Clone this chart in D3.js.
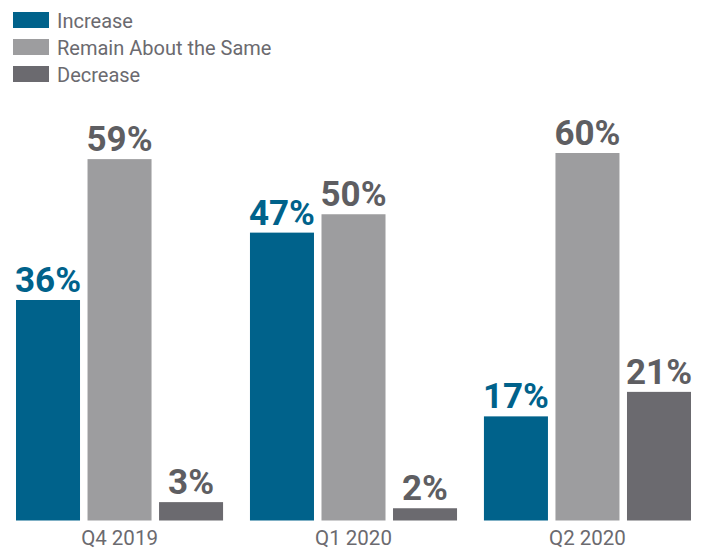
<!DOCTYPE html>
<html>
<head>
<meta charset="utf-8">
<script src="https://cdn.jsdelivr.net/npm/d3@7"></script>
<style>
  html, body { margin: 0; padding: 0; background: #fff; }
  svg { display: block; }
  text { font-family: Roboto, "Noto Sans", sans-serif; }
</style>
</head>
<body>
<svg id="chart" width="710" height="551"></svg>
<script>
// Quarters shown along the bottom
const quarters = ["Q4 2019", "Q1 2020", "Q2 2020"];
// Response series
const seriesNames = ["Increase", "Remain About the Same", "Decrease"];
const increase = [36, 47, 17];
const remain   = [59, 50, 60];
const decrease = [3, 2, 21];

const seriesColors = ["#00628b", "#9d9d9f", "#6b6a6f"];
const labelColors  = ["#00628b", "#5e5e62", "#5e5e62"];

const seriesValues = [increase, remain, decrease];
const rows = quarters.map((q, i) => ({
  quarter: q,
  values: seriesNames.map((s, j) => ({ series: s, idx: j, value: seriesValues[j][i] }))
}));

const svg = d3.select("#chart");
const baseline = 520.5;

const x0 = d3.scaleBand()
  .domain(quarters)
  .range([16, 691])
  .paddingInner(0.115)
  .paddingOuter(0);

const x1 = d3.scaleBand()
  .domain(seriesNames)
  .range([0, x0.bandwidth()])
  .paddingInner(0.105)
  .paddingOuter(0);

const y = d3.scaleLinear()
  .domain([0, 60])
  .range([baseline, baseline - 367.5]);

// Grouped bars
const groups = svg.append("g")
  .selectAll("g")
  .data(rows)
  .join("g")
  .attr("transform", d => `translate(${x0(d.quarter)},0)`);

groups.selectAll("rect")
  .data(d => d.values)
  .join("rect")
  .attr("x", d => x1(d.series))
  .attr("width", x1.bandwidth())
  .attr("y", d => y(d.value))
  .attr("height", d => y(0) - y(d.value))
  .attr("fill", d => seriesColors[d.idx]);

// Value labels above each bar
groups.selectAll("text.value")
  .data(d => d.values)
  .join("text")
  .attr("class", "value")
  .attr("x", d => x1(d.series) + x1.bandwidth() / 2)
  .attr("y", d => y(d.value) - 8)
  .attr("text-anchor", "middle")
  .attr("font-size", 35)
  .attr("font-weight", 700)
  .attr("fill", d => labelColors[d.idx])
  .text(d => d.value + "%");

// Category axis labels
svg.append("g")
  .attr("transform", `translate(0,${baseline})`)
  .call(d3.axisBottom(x0).tickSize(0).tickPadding(0))
  .call(g => g.select(".domain").remove())
  .call(g => g.selectAll("text")
    .attr("dy", null)
    .attr("y", 24.5)
    .attr("font-size", 20.5)
    .attr("font-family", "Roboto, sans-serif")
    .attr("fill", "#6b6a6f"));

// Legend
const legend = svg.append("g")
  .selectAll("g")
  .data(seriesNames)
  .join("g")
  .attr("transform", (d, i) => `translate(13,${12 + i * 27})`);

legend.append("rect")
  .attr("width", 36)
  .attr("height", 16)
  .attr("fill", (d, i) => seriesColors[i]);

legend.append("text")
  .attr("x", 44)
  .attr("y", 15.5)
  .attr("font-size", 20)
  .attr("fill", "#6b6a6f")
  .text(d => d);
</script>
</body>
</html>
